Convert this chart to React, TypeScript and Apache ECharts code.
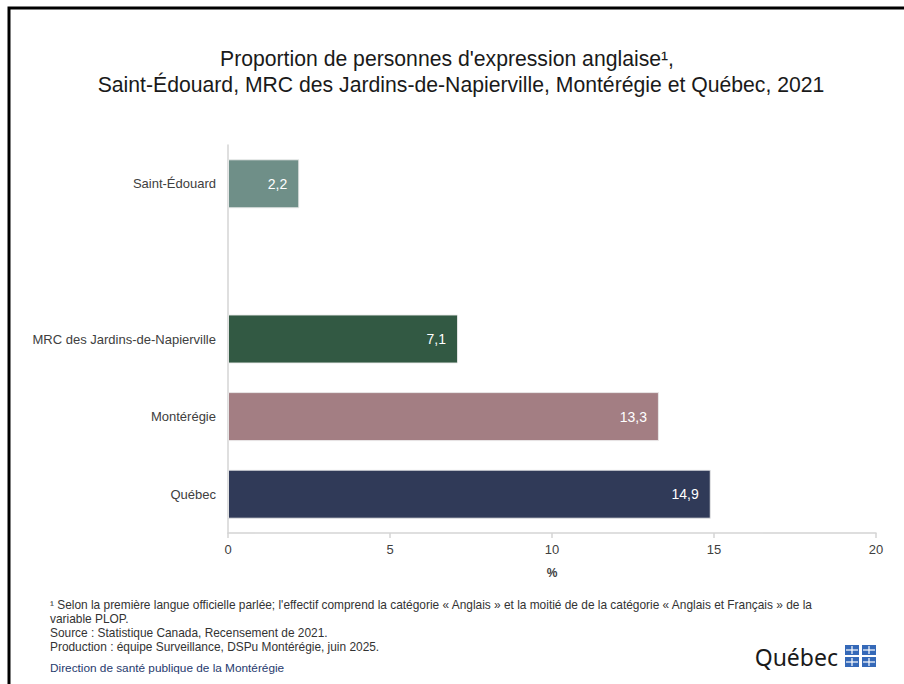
import React, { useEffect, useRef } from "react";
import * as echarts from "echarts";

const categories = ["Saint-Édouard", "", "MRC des Jardins-de-Napierville", "Montérégie", "Québec"];
const values: (number | null)[] = [2.2, null, 7.1, 13.3, 14.9];
const barColors = ["#6f8f88", "#ffffff", "#325943", "#a37e83", "#303a58"];
const xTicks = { min: 0, max: 20, interval: 5 };

const titleLines = [
  "Proportion de personnes d'expression anglaise¹,",
  "Saint-Édouard, MRC des Jardins-de-Napierville, Montérégie et Québec, 2021",
];
const footnotes = [
  "¹ Selon la première langue officielle parlée; l'effectif comprend la catégorie « Anglais » et la moitié de de la catégorie « Anglais et Français » de la",
  "variable PLOP.",
  "Source : Statistique Canada, Recensement de 2021.",
  "Production : équipe Surveillance, DSPu Montérégie, juin 2025.",
];
const signature = "Direction de santé publique de la Montérégie";
const logoText = "Québec";

const FONT = "'Liberation Sans', Arial, sans-serif";

export default function App() {
  const ref = useRef<HTMLDivElement>(null);
  useEffect(() => {
    if (!ref.current) return;
    const chart = echarts.init(ref.current, undefined, { renderer: "svg" });

    const flag: any[] = [];
    const sq = [
      [845, 645],
      [862, 645],
      [845, 657],
      [862, 657],
    ];
    sq.forEach(([x, y]) => {
      flag.push({ type: "rect", shape: { x, y, width: 14, height: 10 }, style: { fill: "#3569b8" } });
      flag.push({ type: "line", shape: { x1: x + 7, y1: y + 1, x2: x + 7, y2: y + 9 }, style: { stroke: "#fff", lineWidth: 1.2 } });
      flag.push({ type: "line", shape: { x1: x + 1, y1: y + 5, x2: x + 13, y2: y + 5 }, style: { stroke: "#fff", lineWidth: 1.2 } });
    });

    chart.setOption({
      animation: false,
      backgroundColor: "#ffffff",
      textStyle: { fontFamily: FONT },
      grid: { left: 228, right: 28, top: 145, bottom: 151, outerBoundsMode: "none" } as any,
      xAxis: {
        type: "value",
        min: xTicks.min,
        max: xTicks.max,
        interval: xTicks.interval,
        axisLine: { show: true, lineStyle: { color: "#d4d4d4", width: 1.5 } },
        axisTick: { show: true, length: 5, lineStyle: { color: "#d4d4d4", width: 1.5 } },
        splitLine: { show: false },
        axisLabel: { color: "#404040", fontSize: 13, margin: 10, fontFamily: FONT },
        name: "%",
        nameLocation: "middle",
        nameGap: 34,
        nameTextStyle: { color: "#404040", fontSize: 12, fontWeight: "bold", fontFamily: FONT },
      },
      yAxis: {
        type: "category",
        data: categories,
        inverse: true,
        axisLine: { show: true, lineStyle: { color: "#d4d4d4", width: 1.5 } },
        axisTick: { show: false },
        axisLabel: { color: "#404040", fontSize: 13, margin: 12, fontFamily: FONT },
      },
      series: [
        {
          type: "bar",
          barWidth: 49,
          data: values.map((v, i) => ({
            value: v,
            itemStyle: { color: barColors[i], borderColor: "rgba(235,235,235,0.9)", borderWidth: 1 },
          })),
          label: {
            show: true,
            position: "insideRight",
            distance: 12,
            color: "#ffffff",
            fontSize: 14,
            fontFamily: FONT,
            formatter: (p: any) => (p.value == null ? "" : Number(p.value).toFixed(1).replace(".", ",")),
          },
        },
      ],
      graphic: [
        {
          type: "polyline",
          shape: { points: [[9, 684], [9, 8], [904, 8]] },
          style: { stroke: "#000", lineWidth: 3, fill: "none" },
          silent: true,
        },
        ...titleLines.map((t, i) => ({
          type: "text",
          x: i === 0 ? 447 : 461,
          y: 58 + i * 26,
          style: {
            text: t,
            fill: "#1a1a1a",
            font: `21.2px ${FONT}`,
            textAlign: "center",
            textVerticalAlign: "middle",
          },
        })),
        ...footnotes.map((t, i) => ({
          type: "text",
          x: 50,
          y: 605 + i * 14,
          style: { text: t, fill: "#333", font: `11.9px ${FONT}`, textVerticalAlign: "middle" },
        })),
        {
          type: "text",
          x: 50,
          y: 668,
          style: { text: signature, fill: "#1f3a6e", font: `11.8px ${FONT}`, textVerticalAlign: "middle" },
        },
        {
          type: "text",
          x: 838,
          y: 657,
          style: {
            text: logoText,
            fill: "#1a1a1a",
            font: `23px 'Noto Sans', sans-serif`,
            textAlign: "right",
            textVerticalAlign: "middle",
          },
        },
        ...flag,
      ],
    });
    return () => chart.dispose();
  }, []);
  return (
    <div style={{ position: "fixed", left: 0, top: 0, width: 904, height: 684, background: "#fff" }}>
      <div ref={ref} style={{ width: 904, height: 684 }} />
    </div>
  );
}
